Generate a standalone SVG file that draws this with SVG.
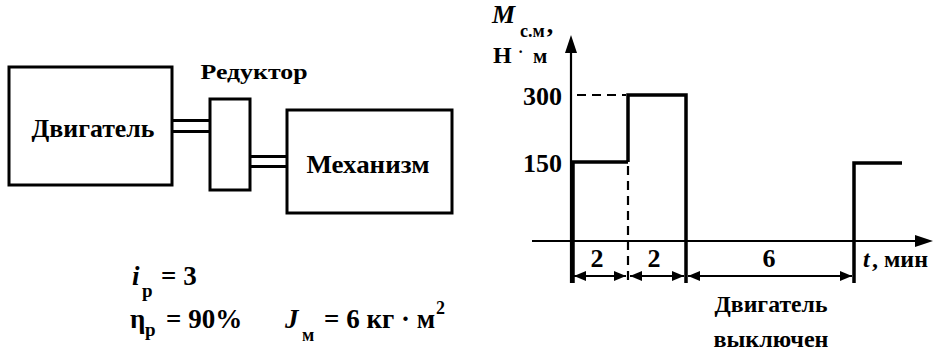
<svg xmlns="http://www.w3.org/2000/svg" width="942" height="354" viewBox="0 0 942 354">
<defs>
<style>
.t{font-family:"Liberation Serif","DejaVu Serif",serif;font-weight:bold;fill:#000}
.it{font-style:italic}
.box{fill:#fff;stroke:#000;stroke-width:3}
.shaft{fill:none;stroke:#000;stroke-width:3}
.ax{fill:none;stroke:#000;stroke-width:2.2}
.pr{fill:none;stroke:#000;stroke-width:3.5}
.dash{fill:none;stroke:#000;stroke-width:2.2;stroke-dasharray:9 6}
.dim{fill:none;stroke:#000;stroke-width:2}
.head{fill:#000;stroke:none}
</style>
<marker id="arr" viewBox="0 0 12 10" refX="12" refY="5" markerWidth="12" markerHeight="10" markerUnits="userSpaceOnUse" orient="auto-start-reverse">
<path d="M0,0 L12,5 L0,10 Z" fill="#000"/>
</marker>
</defs>
<rect width="942" height="354" fill="#fff"/>

<g id="connectors">
<line class="shaft" x1="172" y1="120.5" x2="210" y2="120.5"/>
<line class="shaft" x1="172" y1="131.5" x2="210" y2="131.5"/>
<line class="shaft" x1="250" y1="156.5" x2="287" y2="156.5"/>
<line class="shaft" x1="250" y1="166.5" x2="287" y2="166.5"/>
</g>

<g id="motor">
<rect class="box" x="9" y="67" width="163" height="118"/>
<text class="t" x="93" y="137" font-size="25" text-anchor="middle" textLength="123" lengthAdjust="spacingAndGlyphs">Двигатель</text>
</g>

<g id="reducer">
<rect class="box" x="210" y="99" width="40" height="91"/>
<text class="t" x="254" y="79" font-size="21" text-anchor="middle" textLength="107" lengthAdjust="spacingAndGlyphs">Редуктор</text>
</g>

<g id="mechanism">
<rect class="box" x="287" y="110" width="165" height="103"/>
<text class="t" x="368" y="173" font-size="25" text-anchor="middle" textLength="123" lengthAdjust="spacingAndGlyphs">Механизм</text>
</g>

<g id="params">
<text class="t" font-size="27"><tspan class="it" x="132" y="285">i</tspan><tspan x="142" y="297" font-size="19">р</tspan><tspan x="161" y="285">= 3</tspan></text>
<text class="t" font-size="27"><tspan x="130" y="328">η</tspan><tspan x="145" y="336" font-size="19">р</tspan><tspan x="166" y="328">= 90%</tspan></text>
<text class="t" font-size="27"><tspan class="it" x="285" y="328">J</tspan><tspan x="302" y="341" font-size="18">м</tspan><tspan x="324" y="328">= 6 кг · м</tspan><tspan dx="1" dy="-14" font-size="18">2</tspan></text>
</g>

<g id="chart">
<line class="ax" x1="571" y1="283" x2="571" y2="48"/>
<path class="head" d="M571,35 L577,53 L565,53 Z"/>
<line class="ax" x1="532" y1="241" x2="920" y2="241"/>
<path class="head" d="M933,241 L915,235 L915,247 Z"/>
<polyline class="pr" points="573,283 573,162 628,162"/>
<polyline class="pr" points="628,162 628,95 686,95 686,283"/>
<polyline class="pr" points="854,283 854,163 902,163"/>
<line class="dash" x1="577" y1="95" x2="626" y2="95"/>
<line class="dash" x1="628" y1="166" x2="628" y2="283"/>
<line class="dim" x1="574" y1="276" x2="626" y2="276" marker-start="url(#arr)" marker-end="url(#arr)"/>
<line class="dim" x1="630" y1="276" x2="684" y2="276" marker-start="url(#arr)" marker-end="url(#arr)"/>
<line class="dim" x1="688" y1="276" x2="852" y2="276" marker-start="url(#arr)" marker-end="url(#arr)"/>
<text class="t" x="562" y="105" font-size="26" text-anchor="end">300</text>
<text class="t" x="562" y="172" font-size="26" text-anchor="end">150</text>
<text class="t" font-size="26"><tspan class="it" x="492" y="23">M</tspan><tspan x="520" y="37" font-size="18">с.м</tspan><tspan dx="2" dy="-4">,</tspan></text>
<text class="t" font-size="24"><tspan x="493" y="63">Н</tspan><tspan x="518" y="57" font-size="16">·</tspan><tspan x="533" y="63" font-size="21">м</tspan></text>
<text class="t" x="597" y="267" font-size="26" text-anchor="middle">2</text>
<text class="t" x="654" y="267" font-size="26" text-anchor="middle">2</text>
<text class="t" x="769" y="267" font-size="26" text-anchor="middle">6</text>
<text class="t" font-size="24"><tspan class="it" x="863" y="267">t</tspan><tspan x="872" y="267">, мин</tspan></text>
<text class="t" x="771" y="312" font-size="23" text-anchor="middle" textLength="113" lengthAdjust="spacingAndGlyphs">Двигатель</text>
<text class="t" x="771" y="347" font-size="23" text-anchor="middle" textLength="115" lengthAdjust="spacingAndGlyphs">выключен</text>
</g>
</svg>
